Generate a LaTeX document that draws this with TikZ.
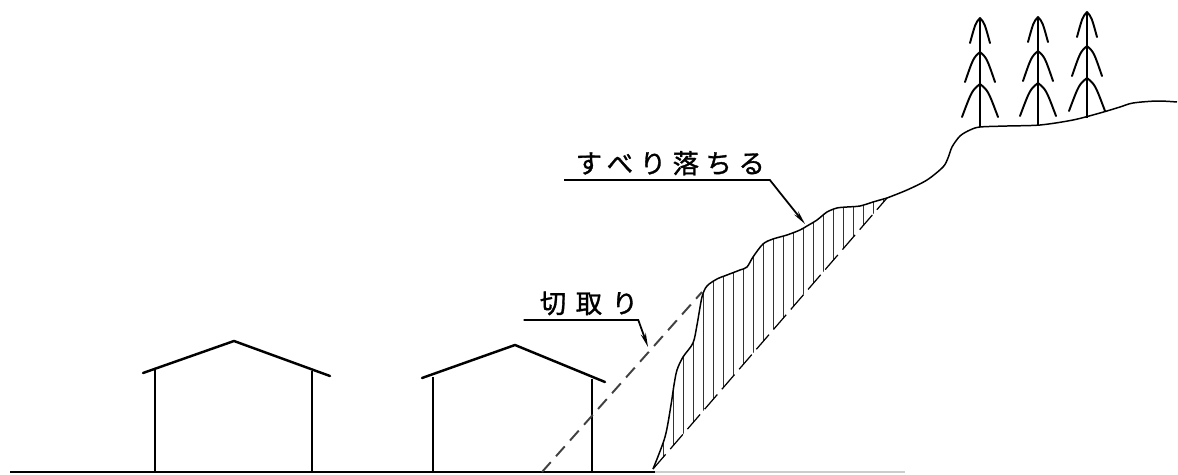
\documentclass[tikz,border=0pt]{standalone}
\usepackage{fontspec}
\newfontfamily\jpfont[FakeBold=1.2]{Noto Sans CJK JP}
\usetikzlibrary{arrows.meta}

% slope face that slides down, and the hill top above it
\def\slideface{plot[smooth,tension=0.5] coordinates {(653,469) (665,437) (671,405) (674,385) (677,370) (683,357) (693,343) (697,325) (702,297) (707,286) (717,279) (727,275) (740,270) (747,267) (753,257) (763,244) (773,239) (787,235) (800,230) (807,226) (817,220) (827,212) (837,208) (847,207) (860,206) (873,202) (887,198)}}
\def\hilltop{plot[smooth,tension=0.5] coordinates {(887,198) (907,190) (927,180) (943,167) (948,158) (952,147) (960,136) (970,130) (980,127) (1007,126) (1040,125) (1073,120) (1100,113) (1120,107) (1133,103) (1157,101) (1177,102)}}

\begin{document}
\begin{tikzpicture}[x=0.02cm,y=-0.02cm,
  wall/.style={line width=1.7pt},
  roof/.style={line width=1.4pt,line cap=round,line join=round},
  ground/.style={line width=1.1pt},
  profile/.style={line width=0.85pt,line join=round},
  hatch/.style={line width=0.45pt,black!80},
  cutline/.style={line width=1.1pt,black!75,dash pattern=on 7.5pt off 4.5pt},
  slipline/.style={line width=0.7pt,dash pattern=on 11pt off 4pt},
  trunk/.style={line width=1.6pt},
  branch/.style={line width=1.1pt,line cap=round},
  label/.style={font=\jpfont\fontsize{15}{17}\selectfont,inner ysep=2.5pt,inner xsep=0pt},
  leader/.style={line width=1pt,-{Stealth[length=8pt,width=3pt]}}]
\useasboundingbox (0,0) rectangle (1178,474);

% ground
\draw[ground] (10,472) -- (655,472);
\draw[black!20,line width=0.6pt] (655,472) -- (905,472);

% houses
\draw[wall] (155,472) -- (155,370);
\draw[wall] (312,472) -- (312,371);
\draw[roof] (143,373) -- (234,341) -- (330,376);
\draw[wall] (433,472) -- (433,377);
\draw[wall] (592,472) -- (592,379);
\draw[roof] (422,378) -- (515,345) -- (605,382);

% line of the cut
\draw[cutline] (542,472) -- (702,292);

% sliding mass
\begin{scope}
\clip \slideface -- cycle;
\foreach \x in {663,673,...,883}
	{
	\draw[hatch] (\x,190) -- (\x,475);
	}
\end{scope}
\draw[slipline] (653,469) -- (887,198);
\draw[profile] \slideface;
\draw[profile] \hilltop;

% trees
\foreach \x/\t/\b in {980/18/127,1038/17/125,1087/12/118}
	{
	\draw[trunk] (\x,\b) -- (\x,\t);
	\foreach \o/\w/\d in {0/10/25,34/15/30,66/18/33}
		{
		\draw[branch] (\x,\t+\o) .. controls (\x-0.45*\w,\t+\o+0.2*\d) .. (\x-\w,\t+\o+\d);
		\draw[branch] (\x,\t+\o) .. controls (\x+0.45*\w,\t+\o+0.2*\d) .. (\x+\w,\t+\o+\d);
		}
	}

% labels
\coordinate (slideTip) at (805,224);
\coordinate (cutTip) at (648,347);
\node[label,minimum width=4.1cm,anchor=south] (slide) at (667,180)
	{\addfontfeature{LetterSpace=25}\hspace*{0.25em}すべり落ちる};
\node[label,minimum width=2.04cm,anchor=south] (cut) at (581,320)
	{\addfontfeature{LetterSpace=36}\hspace*{0.6em}切取り};
\draw[leader] (slide.south west) -- (slide.south east) -- (slideTip);
\draw[leader] (cut.south west) -- (cut.south east) -- (cutTip);
\end{tikzpicture}
\end{document}
